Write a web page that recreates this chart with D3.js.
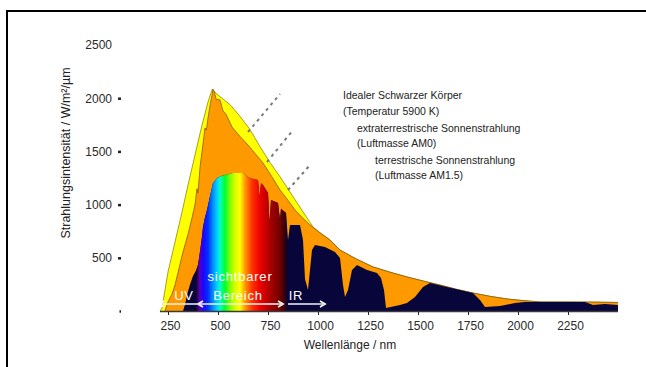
<!DOCTYPE html>
<html>
<head>
<meta charset="utf-8">
<script src="https://cdn.jsdelivr.net/npm/d3@7"></script>
<style>
  body { margin: 0; background: #fff; }
  svg { display: block; }
  text { font-family: "Liberation Sans", Arial, sans-serif; }
</style>
</head>
<body>
<svg width="646" height="367"></svg>
<script>
// [wavelength nm, W/m²/µm]
const schwarzerKoerper = [
  [210, 0], [220, 28], [250, 367], [285, 648], [320, 930], [350, 1184], [385, 1466],
  [420, 1748], [450, 1964], [465, 2050], [472, 2085], [485, 2055], [500, 2030],
  [530, 1985], [560, 1940], [610, 1830], [660, 1705], [710, 1545], [760, 1395],
  [810, 1262], [875, 1075], [945, 875], [975, 790], [1010, 735], [1060, 667],
  [1110, 573], [1190, 490], [1275, 414], [1360, 365], [1445, 320], [1530, 280],
  [1610, 244], [1690, 205], [1775, 169], [1860, 138], [1945, 113], [2030, 97],
  [2110, 85], [2200, 85], [2275, 85], [2400, 83], [2500, 80]
];
const am0 = [
  [235, 0], [250, 85], [270, 160], [285, 244], [305, 400], [325, 555], [350, 720],
  [370, 874], [385, 1000], [395, 1150], [400, 1110], [410, 1350], [420, 1494], [435, 1720],
  [442, 1700], [450, 1814], [462, 1950], [470, 2030], [475, 2085], [482, 2060], [490, 1990],
  [510, 1983], [525, 1880], [540, 1850], [570, 1729], [610, 1640], [650, 1560], [690, 1470],
  [725, 1391], [770, 1260], [810, 1137], [850, 1040], [885, 949], [920, 880],
  [960, 808], [1010, 735], [1060, 667], [1110, 573], [1190, 490], [1275, 414],
  [1360, 365], [1445, 320], [1530, 280], [1610, 244], [1690, 205], [1775, 169],
  [1860, 138], [1945, 113], [2030, 97], [2110, 85], [2200, 85], [2275, 85],
  [2400, 83], [2500, 80]
];
const am15 = [
  [325, 0], [335, 60], [345, 150], [360, 250], [375, 330], [390, 380], [400, 432],
  [410, 560], [420, 700], [425, 789], [435, 880], [445, 949], [460, 1080], [475, 1203],
  [495, 1250], [520, 1270], [550, 1285], [575, 1297], [625, 1297], [650, 1260],
  [675, 1240], [700, 1231], [708, 1071], [715, 1200], [725, 1184], [750, 1109],
  [758, 827], [765, 1043], [800, 1015], [810, 855], [815, 960], [840, 921],
  [850, 667], [860, 808], [910, 808], [925, 667], [935, 300], [950, 197], [970, 573],
  [985, 620], [1035, 601], [1085, 554], [1110, 498], [1125, 244], [1135, 132],
  [1150, 197], [1170, 385], [1195, 432], [1245, 385], [1295, 357], [1315, 310],
  [1330, 197], [1340, 28], [1410, 56], [1445, 75], [1485, 132], [1525, 226],
  [1560, 263], [1645, 226], [1710, 197], [1775, 169], [1810, 103], [1835, 38],
  [1910, 47], [1985, 75], [2035, 85], [2210, 85], [2335, 85], [2375, 56],
  [2435, 66], [2500, 56]
];
const xTicks = [250, 500, 750, 1000, 1250, 1500, 1750, 2000, 2250];
const yTicks = [0, 500, 1000, 1500, 2000, 2500];
const legendLines = [
  'Idealer Schwarzer Körper', '(Temperatur 5900 K)',
  'extraterrestrische Sonnenstrahlung', '(Luftmasse AM0)',
  'terrestrische Sonnenstrahlung', '(Luftmasse AM1.5)'
];
const spektrumFarben = [
  [392, '#1a0038'], [408, '#5a00b8'], [425, '#2000ff'], [450, '#0030ff'],
  [475, '#0090ff'], [495, '#00d0ff'], [510, '#00ffc0'], [535, '#00ff30'],
  [560, '#80ff00'], [585, '#d8ff00'], [610, '#ffff00'], [635, '#ff9900'],
  [670, '#ff3300'], [710, '#ee0000'], [760, '#aa0000'], [810, '#700000'], [842, '#200015']
];

const svg = d3.select('svg');
const x = d3.scaleLinear().domain([0, 2500]).range([118, 618]);
const y = d3.scaleLinear().domain([0, 2500]).range([311, 45]);

const area = d3.area().x(d => x(d[0])).y0(y(0)).y1(d => y(d[1]));
const line = d3.line().x(d => x(d[0])).y(d => y(d[1]));

const defs = svg.append('defs');
const g0 = spektrumFarben[0][0], g1 = spektrumFarben[spektrumFarben.length - 1][0];
const grad = defs.append('linearGradient')
    .attr('id', 'spektrum')
    .attr('gradientUnits', 'userSpaceOnUse')
    .attr('x1', x(g0)).attr('x2', x(g1))
    .attr('y1', 0).attr('y2', 0);
grad.selectAll('stop').data(spektrumFarben).enter().append('stop')
    .attr('offset', d => (d[0] - g0) / (g1 - g0))
    .attr('stop-color', d => d[1]);
defs.append('clipPath').attr('id', 'sichtbar')
  .append('rect')
    .attr('x', x(g0)).attr('y', 0)
    .attr('width', x(g1) - x(g0)).attr('height', 367);

defs.append('marker')
    .attr('id', 'pfeil').attr('viewBox', '0 0 10 10')
    .attr('refX', 5).attr('refY', 5)
    .attr('markerWidth', 5).attr('markerHeight', 5)
    .attr('orient', 'auto-start-reverse')
  .append('path').attr('d', 'M1,1L8,5L1,9')
    .attr('fill', 'none').attr('stroke', '#fff').attr('stroke-width', 2);

// frame
svg.append('path')
    .attr('d', 'M7,367V11H646')
    .attr('fill', 'none').attr('stroke', '#000').attr('stroke-width', 2);

// areas
svg.append('path').datum(schwarzerKoerper)
    .attr('d', area).attr('fill', '#ffff00');
svg.append('path').datum(schwarzerKoerper)
    .attr('d', line).attr('fill', 'none').attr('stroke', '#8c8a10').attr('stroke-width', 0.8);
svg.append('path').datum(am0)
    .attr('d', area).attr('fill', '#ff9900');
svg.append('path').datum(am0)
    .attr('d', line).attr('fill', 'none').attr('stroke', '#8a5a10').attr('stroke-width', 0.8);
svg.append('path').datum(am15)
    .attr('d', area).attr('fill', '#07053a');
svg.append('path').datum(am15)
    .attr('d', area).attr('fill', 'url(#spektrum)').attr('clip-path', 'url(#sichtbar)');

svg.append('line')
    .attr('x1', x(210)).attr('x2', x(2500))
    .attr('y1', y(0) + 0.5).attr('y2', y(0) + 0.5)
    .attr('stroke', '#3a3a3a').attr('stroke-width', 1.5);

// axes
const xAxis = svg.append('g')
    .attr('transform', `translate(0,${y(0) + 1})`)
    .call(d3.axisBottom(x).tickValues(xTicks).tickSize(3).tickPadding(6).tickFormat(d3.format('d')));
xAxis.select('.domain').remove();
xAxis.selectAll('text').attr('font-size', 12).attr('fill', '#2a2a2a').attr('font-family', null).attr('dx', 2);
xAxis.selectAll('line').attr('stroke', '#222');

const yAxis = svg.append('g')
    .attr('transform', 'translate(121,0)')
    .call(d3.axisLeft(y).tickValues(yTicks).tickSize(3).tickPadding(6)
      .tickFormat(d => d === 0 ? '' : d));
yAxis.select('.domain').remove();
yAxis.selectAll('text').attr('font-size', 12).attr('fill', '#2a2a2a').attr('font-family', null);
yAxis.selectAll('line').attr('stroke', '#222').attr('stroke-width', 2.5)
    .attr('opacity', d => d === 2500 ? 0 : 1)
    .attr('x2', d => d === 0 ? -1.5 : -3);

svg.append('text')
    .attr('x', 350).attr('y', 349)
    .attr('text-anchor', 'middle').attr('font-size', 12).attr('fill', '#222')
    .text('Wellenlänge / nm');
svg.append('text')
    .attr('transform', 'translate(70,153) rotate(-90)')
    .attr('text-anchor', 'middle').attr('font-size', 12.5).attr('fill', '#222')
    .text('Strahlungsintensität / W/m²/µm');

// labels inside spectrum
const innen = [
  ['sichtbarer', 240, 281], ['Bereich', 238, 300], ['UV', 184, 300], ['IR', 296, 300]
];
svg.selectAll('.innen').data(innen).enter().append('text')
    .attr('class', 'innen')
    .attr('x', d => d[1]).attr('y', d => d[2])
    .attr('text-anchor', 'middle').attr('font-size', 13).attr('letter-spacing', 0.8)
    .attr('fill', '#fff').text(d => d[0]);

const pfeile = [[197, 161, false], [200, 281, true], [288, 323, false]];
svg.selectAll('.pfeil').data(pfeile).enter().append('line')
    .attr('class', 'pfeil')
    .attr('x1', d => d[0]).attr('x2', d => d[1])
    .attr('y1', 304).attr('y2', 304)
    .attr('stroke', '#f4f4f4').attr('stroke-width', 1.5)
    .attr('marker-end', 'url(#pfeil)')
    .attr('marker-start', d => d[2] ? 'url(#pfeil)' : null);

// legend
const legendPos = [[343, 99], [343, 115], [357, 132], [357, 147], [375, 164], [375, 179]];
svg.selectAll('.legend').data(legendLines).enter().append('text')
    .attr('class', 'legend')
    .attr('x', (d, i) => legendPos[i][0]).attr('y', (d, i) => legendPos[i][1])
    .attr('font-size', 10.5).attr('fill', '#222')
    .text(d => d);

const leader = [[248, 132, 280, 94], [267, 162, 293, 130], [288, 190, 310, 165]];
svg.selectAll('.leader').data(leader).enter().append('line')
    .attr('class', 'leader')
    .attr('x1', d => d[0]).attr('y1', d => d[1]).attr('x2', d => d[2]).attr('y2', d => d[3])
    .attr('stroke', '#7a7a7a').attr('stroke-width', 2).attr('stroke-dasharray', '3,4');
</script>
</body>
</html>
